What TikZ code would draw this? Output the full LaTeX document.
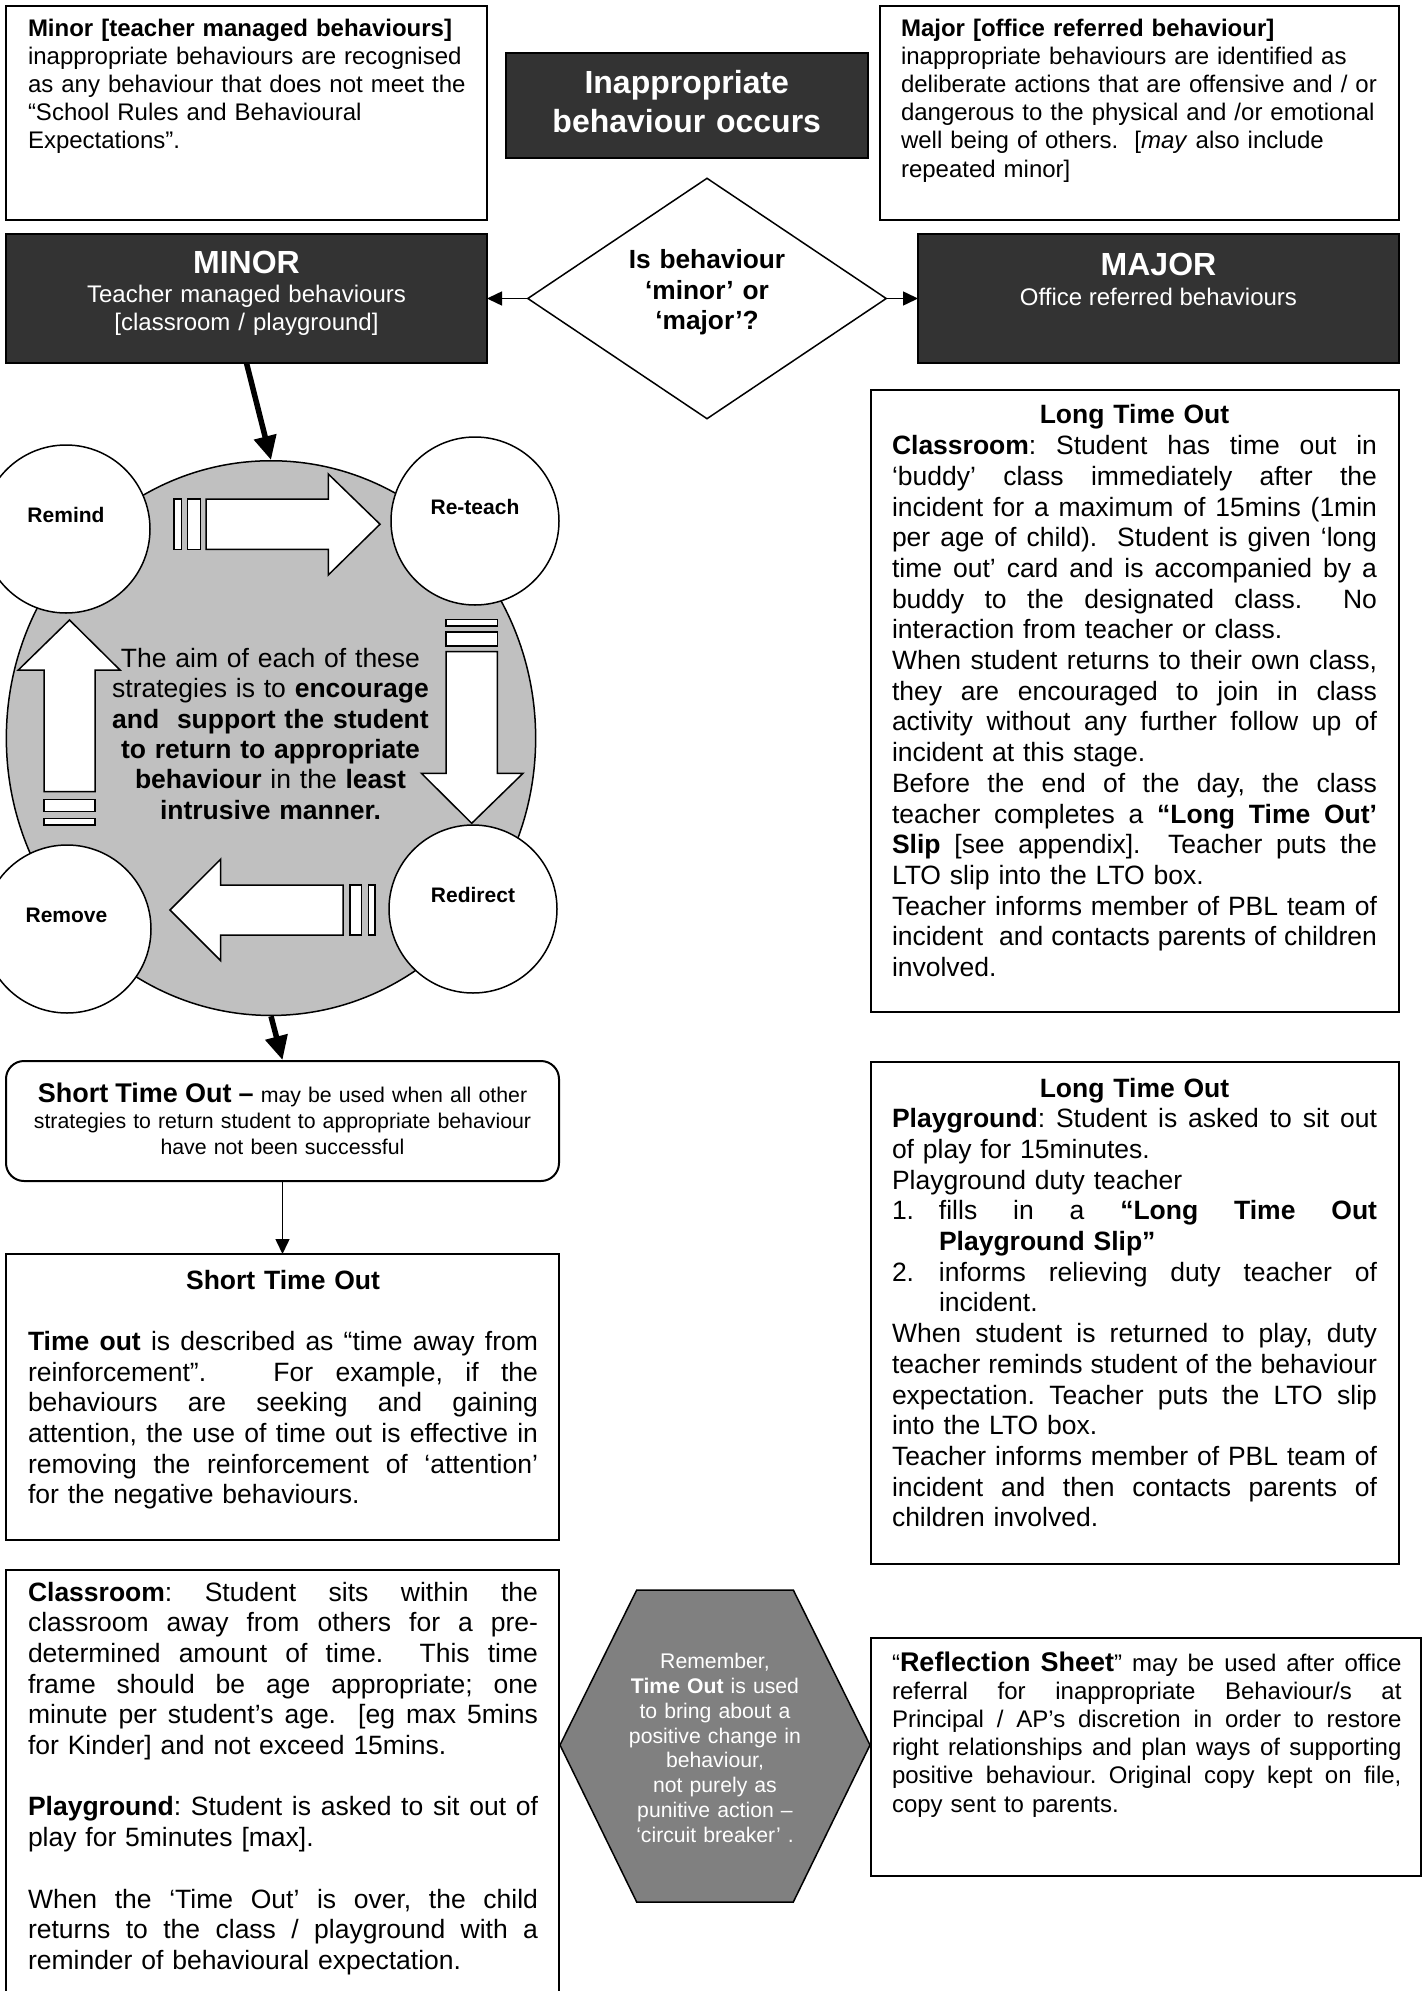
\documentclass[tikz,border=0pt]{standalone}
\usepackage{fontspec}
\setmainfont{Liberation Sans}
\usetikzlibrary{arrows.meta,shapes.geometric}
\definecolor{boxdark}{HTML}{333333}
\definecolor{bigfill}{HTML}{C0C0C0}
\definecolor{hexfill}{HTML}{808080}
\newcommand\jline[1]{\noindent\hbox to\hsize{\spaceskip=0.278em plus 1fil\xspaceskip=\spaceskip\strut#1}\par}
\newcommand\pline[1]{\noindent\hbox{\strut#1}\par}
\newcommand\ctline[1]{\noindent\hbox to\hsize{\hfil\strut#1\hfil}\par}
\newcommand\fsz[2]{\fontsize{#1}{#2}\selectfont\frenchspacing\parskip=0pt\parindent=0pt}
\hbadness=10000
\hfuzz=20pt
\tikzset{
  plainbox/.style={draw=black,line width=2pt,fill=white,inner sep=0pt,outer sep=0pt},
  darkbox/.style={draw=black,line width=2pt,fill=boxdark,inner sep=0pt,outer sep=0pt},
  txt/.style={inner sep=0pt,outer sep=0pt},
  circ/.style={circle,draw=black,line width=1.5pt,fill=white,minimum size=168pt,inner sep=0pt},
  blockarrow/.style={draw=black,line width=1.5pt,fill=white,line join=miter},
  thinarrow/.style={line width=1.5pt,-{Triangle[length=15pt,width=14pt]}},
  thickarrow/.style={line width=5.5pt,-{Triangle[length=24pt,width=22pt]}},
}
\begin{document}
\begin{tikzpicture}[x=1pt,y=-1pt]
\useasboundingbox[fill=white] (0,0) rectangle (1423,1991);

% ---------- top row ----------
\node[plainbox,minimum width=481pt,minimum height=214pt] (minordesc) at (246.5,113) {};
\node[txt,anchor=north west,text width=455pt,font=\fsz{24}{28.2}] (minordesctext) at (28,16.3) {%
\pline{\textbf{Minor [teacher managed behaviours]}}%
\pline{inappropriate behaviours are recognised}%
\pline{as any behaviour that does not meet the}%
\pline{“School Rules and Behavioural}%
\pline{Expectations”.}};

\node[darkbox,minimum width=361.5pt,minimum height=104.5pt] (occurs) at (686.75,105.25) {};
\node[txt,anchor=north,text width=350pt,text=white,font=\bfseries\fsz{32}{39}] (occurstext) at (686.75,66.2) {%
\ctline{Inappropriate}%
\ctline{behaviour occurs}};

\node[plainbox,minimum width=519pt,minimum height=214pt] (majordesc) at (1139.5,113) {};
\node[txt,anchor=north west,text width=490pt,font=\fsz{24}{28.2}] (majordesctext) at (901,16.3) {%
\pline{\textbf{Major [office referred behaviour]}}%
\pline{inappropriate behaviours are identified as}%
\pline{deliberate actions that are offensive and / or}%
\pline{dangerous to the physical and /or emotional}%
\pline{well being of others.\ \ [\textit{may} also include}%
\pline{repeated minor]}};

% ---------- decision row ----------
\node[darkbox,minimum width=481pt,minimum height=129pt] (minor) at (246.5,298.5) {};
\node[txt,anchor=base,text=white,font=\bfseries\fsz{32}{38}] (minortitle) at (246.5,273.5) {MINOR};
\node[txt,anchor=north,text width=470pt,text=white,font=\fsz{24}{28}] (minorsub) at (246.5,282.4) {%
\ctline{Teacher managed behaviours}%
\ctline{[classroom / playground]}};

\node[darkbox,minimum width=481pt,minimum height=129pt] (major) at (1158.5,298.5) {};
\node[txt,anchor=base,text=white,font=\bfseries\fsz{32}{38}] (majortitle) at (1158.5,275.5) {MAJOR};
\node[txt,anchor=base,text=white,font=\fsz{24}{28}] (majorsub) at (1158.5,305) {Office referred behaviours};

\node[diamond,draw=black,line width=1.5pt,fill=white,minimum width=359pt,minimum height=241pt,inner sep=0pt] (dia) at (707,298.5) {};
\node[txt,anchor=north,text width=300pt,font=\bfseries\fsz{26.3}{30.5}] (diatext) at (707,247.6) {%
\ctline{Is behaviour}%
\ctline{‘minor’ or}%
\ctline{‘major’?}};

\draw[thinarrow] (dia.west) -- (minor.east);
\draw[thinarrow] (dia.east) -- (major.west);

% ---------- strategies circle ----------
\node[ellipse,draw=black,line width=1.5pt,fill=bigfill,minimum width=529.3pt,minimum height=554.7pt,inner sep=0pt] (bigc) at (271,738.1) {};
\node[circ] (remind) at (66,529) {};
\node[circ] (reteach) at (475,521) {};
\node[circ] (redirect) at (473,909) {};
\node[circ] (remove) at (67,929) {};
\node[txt,anchor=base,font=\bfseries\fsz{21}{25}] (remindtext) at (66,522) {Remind};
\node[txt,anchor=base,font=\bfseries\fsz{21}{25}] (reteachtext) at (475,514) {Re-teach};
\node[txt,anchor=base,font=\bfseries\fsz{21}{25}] (redirecttext) at (473,902) {Redirect};
\node[txt,anchor=base,font=\bfseries\fsz{21}{25}] (removetext) at (66.5,922) {Remove};

% block arrows
\draw[blockarrow] (174,499) rectangle (181.5,549.3);
\draw[blockarrow] (187.3,499) rectangle (200.7,549.3);
\draw[blockarrow] (206,499) -- (328.3,499) -- (328.3,474) -- (380,524.2) -- (328.3,575) -- (328.3,549.3) -- (206,549.3) -- cycle;

\draw[blockarrow] (446,619.3) rectangle (497.3,626);
\draw[blockarrow] (446,632) rectangle (497.3,646);
\draw[blockarrow] (446,651.7) -- (497.3,651.7) -- (497.3,773.3) -- (523,773.3) -- (471.7,823.3) -- (421.4,773.3) -- (446,773.3) -- cycle;

\draw[blockarrow] (350,885) rectangle (361.7,935);
\draw[blockarrow] (368.3,885) rectangle (375,935);
\draw[blockarrow] (343,885) -- (220.5,885) -- (220.5,859.3) -- (170,910) -- (220.5,960.5) -- (220.5,935) -- (343,935) -- cycle;

\draw[blockarrow] (44,799.3) rectangle (95,811.7);
\draw[blockarrow] (44,818.3) rectangle (95,825);
\draw[blockarrow] (44,791.7) -- (44,670) -- (18.3,670) -- (69.5,620) -- (120,670) -- (95,670) -- (95,791.7) -- cycle;

\node[txt,anchor=north,text width=420pt,font=\fsz{26.5}{30.3}] (aimtext) at (270.5,646.3) {%
\ctline{The aim of each of these}%
\ctline{strategies is to \textbf{encourage}}%
\ctline{\textbf{and\ \ support the student}}%
\ctline{\textbf{to return to appropriate}}%
\ctline{\textbf{behaviour} in the \textbf{least}}%
\ctline{\textbf{intrusive manner.}}};

\draw[thickarrow] (minor.south) -- (bigc.north);

% ---------- short time out ----------
\node[draw=black,line width=2pt,fill=white,rounded corners=18pt,inner sep=0pt,minimum width=553pt,minimum height=120pt] (stor) at (282.5,1121) {};
\node[txt,anchor=north,text width=545pt,font=\fsz{21.3}{26}] (stortext) at (282.5,1082.8) {%
\ctline{{\fontsize{27}{26}\selectfont\textbf{Short Time Out –}} may be used when all other}%
\ctline{strategies to return student to appropriate behaviour}%
\ctline{have not been successful}};
\draw[thickarrow] (bigc.south) -- (stor.north);

\node[plainbox,minimum width=553pt,minimum height=286pt] (stob) at (282.5,1397) {};
\draw[thinarrow] (stor.south) -- (stob.north);
\node[txt,anchor=north west,text width=510pt,font=\fsz{26.5}{30.7}] (stobtext) at (28,1267.5) {%
\ctline{\textbf{Short Time Out}}%
\pline{}%
\jline{\textbf{Time out} is described as “time away from}%
\jline{reinforcement”.\ \ \ For example, if the}%
\jline{behaviours are seeking and gaining}%
\jline{attention, the use of time out is effective in}%
\jline{removing the reinforcement of ‘attention’}%
\pline{for the negative behaviours.}};

\node[plainbox,minimum width=553pt,minimum height=440pt] (classbox) at (282.5,1790) {};
\node[txt,anchor=north west,text width=510pt,font=\fsz{26.5}{30.7}] (classtext) at (28,1579.5) {%
\jline{\textbf{Classroom}: Student sits within the}%
\jline{classroom away from others for a pre-}%
\jline{determined amount of time.\ \ This time}%
\jline{frame should be age appropriate; one}%
\jline{minute per student’s age.\ \ [eg max 5mins}%
\pline{for Kinder] and not exceed 15mins.}%
\pline{}%
\jline{\textbf{Playground}: Student is asked to sit out of}%
\pline{play for 5minutes [max].}%
\pline{}%
\jline{When the ‘Time Out’ is over, the child}%
\jline{returns to the class / playground with a}%
\pline{reminder of behavioural expectation.}};

% ---------- hexagon ----------
\draw[draw=black,line width=1.5pt,fill=hexfill,line join=miter] (636.7,1590) -- (793.3,1590) -- (870,1745) -- (793.3,1902) -- (636.7,1902) -- (560,1745) -- cycle;
\node[txt,anchor=north,text width=300pt,text=white,font=\fsz{21.2}{24.8}] (hextext) at (715,1651.3) {%
\ctline{Remember,}%
\ctline{\textbf{Time Out} is used}%
\ctline{to bring about a}%
\ctline{positive change in}%
\ctline{behaviour,}%
\ctline{not purely as}%
\ctline{punitive action –}%
\ctline{‘circuit breaker’ .}};

% ---------- right column ----------
\node[plainbox,minimum width=528pt,minimum height=622pt] (ltoclass) at (1135,701) {};
\node[txt,anchor=north west,text width=485pt,font=\fsz{26.5}{30.7}] (ltoclasstext) at (892,402.5) {%
\ctline{\textbf{Long Time Out}}%
\jline{\textbf{Classroom}: Student has time out in}%
\jline{‘buddy’ class immediately after the}%
\jline{incident for a maximum of 15mins (1min}%
\jline{per age of child).\ \ Student is given ‘long}%
\jline{time out’ card and is accompanied by a}%
\jline{buddy to the designated class.\ \ No}%
\pline{interaction from teacher or class.}%
\jline{When student returns to their own class,}%
\jline{they are encouraged to join in class}%
\jline{activity without any further follow up of}%
\pline{incident at this stage.}%
\jline{Before the end of the day, the class}%
\jline{teacher completes a \textbf{“Long Time Out’}}%
\jline{\textbf{Slip} [see appendix].\ \ Teacher puts the}%
\pline{LTO slip into the LTO box.}%
\jline{Teacher informs member of PBL team of}%
\jline{incident\ \ and contacts parents of children}%
\pline{involved.}};

\node[plainbox,minimum width=528pt,minimum height=502pt] (ltoplay) at (1135,1313) {};
\node[txt,anchor=north west,text width=485pt,font=\fsz{26.5}{30.7}] (ltoplaytext) at (892,1075.5) {%
\ctline{\textbf{Long Time Out}}%
\jline{\textbf{Playground}: Student is asked to sit out}%
\pline{of play for 15minutes.}%
\pline{Playground duty teacher}%
\jline{\makebox[47pt][l]{1.}fills in a \textbf{“Long Time Out}}%
\pline{\hspace*{47pt}\textbf{Playground Slip”}}%
\jline{\makebox[47pt][l]{2.}informs relieving duty teacher of}%
\pline{\hspace*{47pt}incident.}%
\jline{When student is returned to play, duty}%
\jline{teacher reminds student of the behaviour}%
\jline{expectation. Teacher puts the LTO slip}%
\pline{into the LTO box.}%
\jline{Teacher informs member of PBL team of}%
\jline{incident and then contacts parents of}%
\pline{children involved.}};

\node[plainbox,minimum width=550pt,minimum height=238pt] (reflect) at (1146,1757) {};
\node[txt,anchor=north west,text width=509.5pt,font=\fsz{24}{28.2}] (reflecttext) at (892,1651.3) {%
\jline{“{\fontsize{27}{28.2}\selectfont\textbf{Reflection Sheet}}” may be used after office}%
\jline{referral for inappropriate Behaviour/s at}%
\jline{Principal / AP’s discretion in order to restore}%
\jline{right relationships and plan ways of supporting}%
\jline{positive behaviour. Original copy kept on file,}%
\pline{copy sent to parents.}};
\end{tikzpicture}
\end{document}
